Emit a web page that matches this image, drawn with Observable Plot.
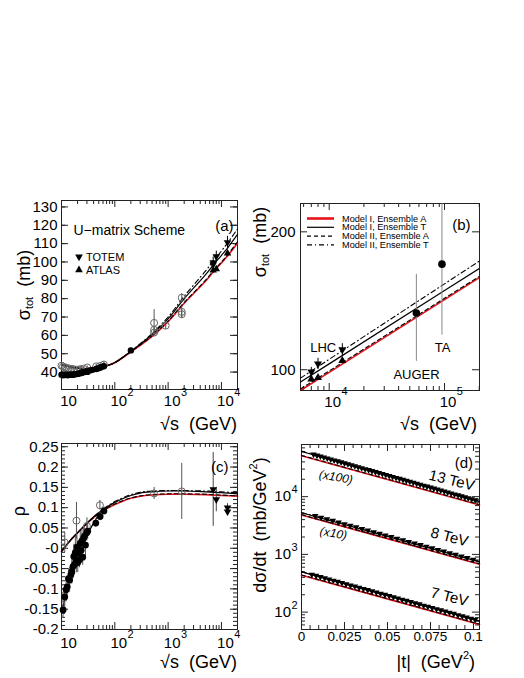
<!DOCTYPE html>
<html>
<head>
<meta charset="utf-8">
<script src="https://cdn.jsdelivr.net/npm/d3@7"></script>
<script src="https://cdn.jsdelivr.net/npm/@observablehq/plot@0.6"></script>
<style>
html,body{margin:0;padding:0;background:#fff;}
#wrap{position:relative;width:524px;height:678px;overflow:hidden;background:#fff;}
#wrap svg{position:absolute;}
</style>
</head>
<body>
<div id="wrap"></div>
<script>
// ================= DATA =================
// ---- Panel (a): sigma_tot (mb) vs sqrt(s) (GeV)
const aModelSqrtS = [10, 15, 20, 30, 50, 70, 100, 200, 500, 1000, 2000, 5000, 7000, 10000, 13000, 20000];
const aModelI_A  = [44.0, 42.8, 42.2, 41.9, 42.5, 43.4, 45.1, 51.0, 59.5, 67.5, 77.5, 89.5, 94.5, 99.5, 103.2, 110.3];
const aModelI_T  = [44.0, 42.8, 42.2, 41.9, 42.5, 43.4, 45.2, 51.3, 60.5, 69.0, 80.0, 93.0, 98.3, 103.6, 107.6, 115.0];
const aModelII_A = [44.0, 42.8, 42.2, 41.9, 42.5, 43.4, 45.1, 51.1, 59.7, 67.8, 77.9, 90.0, 95.0, 100.0, 103.8, 111.0];
const aModelII_T = [44.0, 42.8, 42.2, 41.9, 42.5, 43.4, 45.2, 51.4, 61.0, 70.0, 81.3, 95.0, 100.4, 106.0, 110.3, 118.0];
const aPPCurveSqrtS = [10, 15, 20, 30, 50, 70];
const aPPCurveSigma = [38.6, 38.7, 39.0, 39.9, 41.8, 43.3];
const aPPSqrtS = [10.0, 10.7, 11.5, 12.3, 13.1, 13.8, 14.6, 15.4, 16.2, 16.8, 17.9, 19.4, 20.5, 21.7, 23.0, 23.5, 24.3, 26.0, 27.4, 30.6, 34.0, 38.0, 44.7, 48.0, 52.8, 55.0, 62.5, 200];
const aPPSigma = [38.6, 38.3, 38.4, 38.5, 38.3, 38.5, 38.6, 38.5, 38.6, 38.7, 38.8, 38.9, 39.1, 39.3, 39.4, 39.6, 39.7, 39.9, 40.1, 40.1, 40.9, 41.2, 41.7, 42.0, 42.4, 42.7, 43.2, 51.8];
const aPPErr   = [0.6, 0.5, 0.5, 0.5, 0.5, 0.4, 0.5, 0.5, 0.4, 0.4, 0.5, 0.4, 0.5, 0.5, 0.4, 0.4, 0.5, 0.4, 0.4, 0.5, 0.6, 0.6, 0.4, 0.6, 0.4, 0.7, 2.0, 1.2];
const aPBSqrtS = [10.0, 10.7, 11.5, 12.3, 13.8, 15.4, 16.8, 19.4, 21.7, 23.0, 26.0, 30.4, 44.7, 52.6, 62.3, 546, 546, 546, 900, 1800, 1800, 1800];
const aPBSigma = [43.5, 43.0, 42.6, 42.3, 42.0, 41.7, 41.6, 41.3, 41.4, 41.6, 41.8, 42.5, 43.1, 43.3, 44.1, 66.8, 63.0, 61.5, 65.3, 80.5, 72.8, 71.5];
const aPBErr   = [0.8, 0.7, 0.7, 0.6, 0.6, 0.6, 0.6, 0.6, 0.6, 0.7, 0.7, 0.8, 1.0, 1.0, 1.5, 7.2, 1.5, 1.0, 2.0, 2.2, 3.1, 2.4];
const aTotemSqrtS = [7000, 7000, 8000, 13000];
const aTotemSigma = [98.6, 99.8, 103.0, 110.6];
const aTotemErr   = [2.2, 2.9, 2.9, 3.4];
const aAtlasSqrtS = [7000, 8000, 13000];
const aAtlasSigma = [95.4, 96.1, 104.7];
const aAtlasErr   = [1.4, 1.0, 1.1];
const aYTicks = [40, 50, 60, 70, 80, 90, 100, 110, 120, 130];
const aXTicks = [10, 100, 1000, 10000];
const aXExp   = ["", "2", "3", "4"];

// ---- Panel (b): sigma_tot at cosmic-ray energies
const bModelSqrtS = [5640, 10000, 100000, 200000];
const bModelI_A  = [90.1, 98.7, 142.3, 158.9];
const bModelI_T  = [94.0, 103.0, 148.9, 166.3];
const bModelII_A = [90.8, 99.4, 143.2, 159.8];
const bModelII_T = [95.9, 105.4, 154.0, 172.6];
const bTotemSqrtS = [7000, 8000, 13000];
const bTotemSigma = [99.0, 103.0, 110.6];
const bTotemErr   = [2.2, 2.9, 3.4];
const bAtlasSqrtS = [7000, 8000, 13000];
const bAtlasSigma = [95.4, 96.1, 104.7];
const bAtlasErr   = [1.4, 1.0, 1.1];
const bCosmicSqrtS = [57000, 95000];
const bCosmicSigma = [133, 170];
const bCosmicLow   = [104.3, 119];
const bCosmicHigh  = [161.5, 240];
const bLabelText  = ["LHC", "AUGER", "TA"];
const bLabelSqrtS = [8870, 57200, 96200];
const bLabelSigma = [111.7, 97.7, 111.7];
const bYTicks = [100, 200];
const bXTicks = [10000, 100000];
const bXExp   = ["4", "5"];

// ---- Panel (c): rho vs sqrt(s)
const cModelSqrtS = [10, 15, 20, 30, 45, 63, 100, 140, 200, 300, 500, 1000, 2000, 5000, 10000, 20000];
const cModelI_T  = [-0.008, 0.021, 0.038, 0.062, 0.083, 0.097, 0.113, 0.122, 0.130, 0.136, 0.139, 0.141, 0.141, 0.139, 0.137, 0.134];
const cModelII_T = [-0.008, 0.021, 0.038, 0.062, 0.083, 0.098, 0.115, 0.124, 0.132, 0.138, 0.141, 0.142, 0.142, 0.141, 0.139, 0.137];
const cModelI_A  = [-0.008, 0.021, 0.038, 0.061, 0.081, 0.094, 0.108, 0.116, 0.123, 0.128, 0.131, 0.133, 0.133, 0.132, 0.130, 0.128];
const cModelII_A = [-0.008, 0.021, 0.038, 0.061, 0.081, 0.095, 0.109, 0.117, 0.124, 0.129, 0.132, 0.134, 0.134, 0.133, 0.131, 0.129];
const cPPCurveSqrtS = [10, 12, 15, 20, 25, 30, 40, 50, 63];
const cPPCurveRho   = [-0.158, -0.118, -0.076, -0.025, 0.008, 0.032, 0.062, 0.082, 0.096];
const cPPSqrtS = [10.7, 11.5, 12.2, 12.8, 13.5, 14.2, 15.0, 15.6, 16.4, 17.0, 17.6, 18.2, 19.0, 19.5, 20.2, 21.0, 21.8, 22.5, 23.4, 24.2, 25.0, 26.0, 27.0, 28.2, 29.8, 31.0, 44.0, 53.0, 62.5];
const cPPRho   = [-0.152, -0.120, -0.102, -0.095, -0.075, -0.078, -0.065, -0.058, -0.045, -0.020, -0.040, -0.010, -0.030, 0.003, -0.035, -0.012, -0.028, 0.012, -0.005, 0.018, -0.022, 0.025, 0.030, 0.008, 0.038, 0.042, 0.062, 0.078, 0.092];
const cPPErr   = [0.020, 0.030, 0.030, 0.020, 0.025, 0.030, 0.020, 0.030, 0.030, 0.030, 0.025, 0.040, 0.030, 0.030, 0.025, 0.030, 0.020, 0.030, 0.025, 0.030, 0.020, 0.025, 0.020, 0.030, 0.020, 0.020, 0.010, 0.010, 0.010];
const cPBSqrtS = [11.5, 19.1, 30.0, 52.5, 546, 1800];
const cPBRho   = [0.014, 0.068, 0.055, 0.106, 0.135, 0.140];
const cPBErr   = [0.025, 0.045, 0.020, 0.012, 0.015, 0.069];
const cTotemSqrtS = [7000, 8000, 13000, 13000];
const cTotemRho   = [0.145, 0.120, 0.100, 0.090];
const cTotemErr   = [0.091, 0.030, 0.010, 0.010];
const cYTicks  = [-0.2, -0.15, -0.1, -0.05, 0, 0.05, 0.1, 0.15, 0.2, 0.25];
const cYLabels = ["-0.2", "-0.15", "-0.1", "-0.05", "-0", "0.05", "0.1", "0.15", "0.2", "0.25"];

// ---- Panel (d): dsigma/dt (mb/GeV^2) vs |t| (GeV^2)
const dLineT = [0, 0.052, 0.1035];
const d13I_A = [51000, 19100, 7180],  d13I_T = [60600, 22200, 8190], d13II_A = [51700, 19350, 7280], d13II_T = [61500, 22600, 8300];
const d8I_A  = [4810, 1800, 676],     d8I_T  = [5270, 1975, 741],    d8II_A  = [4870, 1825, 685],    d8II_T  = [5330, 2000, 750];
const d7I_A  = [435, 163, 61.1],      d7I_T  = [497, 186, 69.6],     d7II_A  = [441, 165, 61.9],     d7II_T  = [503, 188, 70.4];
const d13T = [0.007, 0.009, 0.011, 0.013, 0.015, 0.017, 0.019, 0.021, 0.023, 0.025, 0.027, 0.029, 0.031, 0.033, 0.035, 0.037, 0.039, 0.041, 0.043, 0.045, 0.047, 0.049, 0.051, 0.053, 0.055, 0.057, 0.059, 0.061, 0.063, 0.065, 0.067, 0.069, 0.071, 0.073, 0.075, 0.077, 0.079, 0.081, 0.083, 0.085, 0.087, 0.089, 0.091, 0.093, 0.095, 0.097, 0.099, 0.101];
const d13V = [53840, 51800, 49830, 47930, 46110, 44360, 42670, 41050, 39490, 37990, 36550, 35160, 33820, 32540, 31300, 30110, 28970, 27870, 26810, 25790, 24810, 23870, 22960, 22090, 21250, 20440, 19660, 18920, 18200, 17510, 16840, 16200, 15590, 15000, 14430, 13880, 13350, 12840, 12360, 11890, 11440, 11000, 10580, 10180, 9800, 9420, 9070, 8720];
const d8T = [0.008, 0.0114, 0.0148, 0.0182, 0.0216, 0.025, 0.0284, 0.0318, 0.0352, 0.0386, 0.042, 0.0454, 0.0488, 0.0522, 0.0556, 0.059, 0.0624, 0.0658, 0.0692, 0.0726, 0.076, 0.0794, 0.0828, 0.0862, 0.0896, 0.093, 0.0964, 0.0998];
const d8V = [4640, 4350, 4080, 3825, 3585, 3360, 3150, 2955, 2770, 2600, 2435, 2285, 2140, 2010, 1883, 1766, 1655, 1552, 1455, 1364, 1279, 1199, 1124, 1054, 988, 926, 868, 814];
const d7T = [0.006, 0.0085, 0.011, 0.0135, 0.016, 0.0185, 0.021, 0.0235, 0.026, 0.0285, 0.031, 0.0335, 0.036, 0.0385, 0.041, 0.0435, 0.046, 0.0485, 0.051, 0.0535, 0.056, 0.0585, 0.061, 0.0635, 0.066, 0.0685, 0.071, 0.0735, 0.076, 0.0785, 0.081, 0.0835, 0.086, 0.0885, 0.091, 0.0935, 0.096, 0.0985, 0.101];
const d7V = [447, 427, 407, 388, 370, 353, 337, 321, 306, 292, 279, 266, 253, 242, 230, 220, 210, 200, 191, 182, 173, 165, 158, 150, 143, 137, 130, 124, 119, 113, 108, 103, 98, 94, 89, 85, 81, 77.5, 74];
const dLabelText = ["13 TeV", "8 TeV", "7 TeV"];
const dLabelT    = [0.0874, 0.086, 0.086];
const dLabelV    = [19080, 1995, 183];
const dScaleText = ["(x100)", "(x10)"];
const dScaleT    = [0.020, 0.0186];
const dScaleV    = [21800, 2310];
const dXTicks  = [0, 0.025, 0.05, 0.075, 0.1];
const dXLabels = ["0", "0.025", "0.05", "0.075", "0.1"];
const dYTicks  = [100, 1000, 10000];
const dYExp    = ["2", "3", "4"];

const legendNames = ["Model I, Ensemble A", "Model I, Ensemble T", "Model II, Ensemble A", "Model II, Ensemble T"];

// ================= HELPERS =================
const FONT = '"Liberation Sans", Arial, Helvetica, sans-serif';
const RED = "#e8141b";
const FRAME = "#222";
const BAR = "#555";
const DASH = "4,3";
const DASHDOT = "5,3,1,3";
const wrap = document.getElementById("wrap");
const baseStyle = {fontFamily: FONT, background: "transparent", overflow: "visible", color: "#000"};

const pts = (xs, ys, es) => xs.map((x, i) => ({x, y: ys[i], e: es ? es[i] : 0}));

function place(svg, left, top) {
  svg.style.position = "absolute";
  svg.style.left = left + "px";
  svg.style.top = top + "px";
  wrap.appendChild(svg);
}
function logMinor(lo, hi) {
  const out = [];
  for (let e = Math.floor(Math.log10(lo)); e <= Math.ceil(Math.log10(hi)); e++)
    for (let k = 2; k <= 9; k++) { const v = k * Math.pow(10, e); if (v > lo * 1.001 && v < hi * 0.999) out.push(v); }
  return out;
}
function linMinor(lo, hi, step) {
  const out = [];
  for (let v = Math.ceil(lo / step) * step; v <= hi + 1e-9; v += step) out.push(+v.toFixed(6));
  return out;
}
function frameTicks(iw, ih, {xMaj = [], xMin = [], yMaj = [], yMin = []}, L = 7, l = 4) {
  const s = {stroke: FRAME, strokeWidth: 1};
  const m = [];
  for (const [v, len] of [[xMaj, L], [xMin, l]]) if (v.length) {
    m.push(Plot.ruleX(v, {x: d => d, insetTop: ih - len, ...s}));
    m.push(Plot.ruleX(v, {x: d => d, insetBottom: ih - len, ...s}));
  }
  for (const [v, len] of [[yMaj, L], [yMin, l]]) if (v.length) {
    m.push(Plot.ruleY(v, {y: d => d, insetRight: iw - len, ...s}));
    m.push(Plot.ruleY(v, {y: d => d, insetLeft: iw - len, ...s}));
  }
  return m;
}
function logXLabels(vals, exps, {dyBase, dyExp, fs = 15, fsExp = 11}) {
  const out = [];
  vals.forEach((v, i) => {
    const e = exps[i];
    out.push(Plot.text([v], {x: d => d, frameAnchor: "bottom", dy: dyBase, dx: e ? 4 : 7, text: () => "10", fontSize: fs, fill: "#000"}));
    if (e) out.push(Plot.text([v], {x: d => d, frameAnchor: "bottom", dy: dyExp, dx: 12.8, text: () => e, textAnchor: "start", fontSize: fsExp, fill: "#000"}));
  });
  return out;
}
function modelLines(xs, IA, IT, IIA, IIT, curve = "linear", clip = false) {
  return [
    Plot.line(pts(xs, IA), {x: "x", y: "y", stroke: RED, strokeWidth: 1.6, curve, clip}),
    Plot.line(pts(xs, IT), {x: "x", y: "y", stroke: "#000", strokeWidth: 1.2, curve, clip}),
    Plot.line(pts(xs, IIA), {x: "x", y: "y", stroke: "#000", strokeWidth: 1.1, strokeDasharray: DASH, curve, clip}),
    Plot.line(pts(xs, IIT), {x: "x", y: "y", stroke: "#000", strokeWidth: 1.1, strokeDasharray: DASHDOT, curve, clip})
  ];
}
const errBars = (data, stroke = BAR) =>
  Plot.ruleX(data, {x: "x", y1: d => d.y - d.e, y2: d => d.y + d.e, stroke, strokeWidth: 1, clip: true});
const downTri = (data, r = 2.8) => Plot.dot(data, {x: "x", y: "y", symbol: "triangle", rotate: 180, r, fill: "#000", stroke: "none"});
const upTri = (data, r = 2.8) => Plot.dot(data, {x: "x", y: "y", symbol: "triangle", r, fill: "#000", stroke: "none"});

// ================= PANEL (a) =================
{
  const iw = 176, ih = 189;
  const pp = pts(aPPSqrtS, aPPSigma, aPPErr);
  const pb = pts(aPBSqrtS, aPBSigma, aPBErr);
  const tot = pts(aTotemSqrtS, aTotemSigma, aTotemErr);
  const atl = pts(aAtlasSqrtS, aAtlasSigma, aAtlasErr);
  const svg = Plot.plot({
    width: 262, height: 250, marginLeft: 61, marginRight: 25, marginTop: 15, marginBottom: 46,
    x: {type: "log", domain: [10, 2e4], axis: null},
    y: {domain: [30.5, 133.5], axis: null},
    style: baseStyle,
    marks: [
      ...frameTicks(iw, ih, {xMaj: aXTicks, xMin: logMinor(10, 2e4), yMaj: aYTicks, yMin: linMinor(35, 133, 10)}),
      Plot.frame({stroke: FRAME}),
      Plot.text(aYTicks, {y: d => d, frameAnchor: "left", dx: -4, textAnchor: "end", text: d => String(d), fontSize: 15}),
      ...logXLabels(aXTicks, aXExp, {dyBase: 16.5, dyExp: 6.5}),
      ...modelLines(aModelSqrtS, aModelI_A, aModelI_T, aModelII_A, aModelII_T, "catmull-rom"),
      Plot.line(pts(aPPCurveSqrtS, aPPCurveSigma), {x: "x", y: "y", stroke: "#000", strokeWidth: 1.2, curve: "catmull-rom"}),
      errBars(pb), errBars(pp), errBars(tot, "#000"), errBars(atl, "#000"),
      Plot.dot(pb, {x: "x", y: "y", r: 3.5, stroke: "#666", strokeWidth: 1, fill: "none"}),
      Plot.dot(pp, {x: "x", y: "y", r: 3.2, fill: "#000"}),
      downTri(tot), upTri(atl),
      Plot.text(["U\u2212matrix Scheme"], {frameAnchor: "top-left", dx: 12, dy: 25, textAnchor: "start", text: d => d, fontSize: 14}),
      Plot.text(["(a)"], {frameAnchor: "top-right", dx: -4, dy: 20, textAnchor: "end", text: d => d, fontSize: 15})
    ]
  });
  place(svg, 0, 185);
}

// ================= PANEL (b) =================
let bScaleX = null;
{
  const iw = 179, ih = 187;
  const tot = pts(bTotemSqrtS, bTotemSigma, bTotemErr);
  const atl = pts(bAtlasSqrtS, bAtlasSigma, bAtlasErr);
  const cos = bCosmicSqrtS.map((x, i) => ({x, y: bCosmicSigma[i], lo: bCosmicLow[i], hi: bCosmicHigh[i]}));
  const labs = bLabelText.map((t, i) => ({t, x: bLabelSqrtS[i], y: bLabelSigma[i]}));
  const svg = Plot.plot({
    width: 262, height: 250, marginLeft: 38, marginRight: 45, marginTop: 18, marginBottom: 45,
    x: {type: "log", domain: [5640, 2.01e5], axis: null},
    y: {type: "log", domain: [90.1, 230.6], axis: null},
    style: baseStyle,
    marks: [
      ...frameTicks(iw, ih, {xMaj: bXTicks, xMin: logMinor(5640, 2.01e5), yMaj: bYTicks, yMin: []}),
      Plot.frame({stroke: FRAME}),
      Plot.text(bYTicks, {y: d => d, frameAnchor: "left", dx: -5, textAnchor: "end", text: d => String(d), fontSize: 15}),
      ...modelLines(bModelSqrtS, bModelI_A, bModelI_T, bModelII_A, bModelII_T, "linear", true),
      Plot.ruleX(cos, {x: "x", y1: "lo", y2: "hi", stroke: "#888", strokeWidth: 1, clip: true}),
      errBars(tot, "#000"), errBars(atl, "#000"),
      downTri(tot, 3), upTri(atl, 3),
      Plot.dot(cos, {x: "x", y: "y", r: 3.8, fill: "#000"}),
      Plot.text(labs, {x: "x", y: "y", text: "t", fontSize: 13}),
      Plot.text(["(b)"], {frameAnchor: "top-right", dx: -9, dy: 16, textAnchor: "end", text: d => d, fontSize: 15})
    ]
  });
  bScaleX = svg.scale("x");
  place(svg, 262, 185);
}

// ================= PANEL (c) =================
{
  const iw = 176, ih = 186;
  const pp = pts(cPPSqrtS, cPPRho, cPPErr);
  const pb = pts(cPBSqrtS, cPBRho, cPBErr);
  const tot = pts(cTotemSqrtS, cTotemRho, cTotemErr);
  const ylab = cYTicks.map((v, i) => ({v, t: cYLabels[i]}));
  const svg = Plot.plot({
    width: 262, height: 248, marginLeft: 61, marginRight: 25, marginTop: 13, marginBottom: 49,
    x: {type: "log", domain: [10, 2e4], axis: null},
    y: {domain: [-0.2, 0.258], axis: null},
    style: baseStyle,
    marks: [
      ...frameTicks(iw, ih, {xMaj: aXTicks, xMin: logMinor(10, 2e4), yMaj: cYTicks, yMin: linMinor(-0.19, 0.258, 0.01)}),
      Plot.frame({stroke: FRAME}),
      Plot.text(ylab, {y: "v", frameAnchor: "left", dx: -3, textAnchor: "end", text: "t", fontSize: 15}),
      ...logXLabels(aXTicks, aXExp, {dyBase: 18, dyExp: 8}),
      ...modelLines(cModelSqrtS, cModelI_A, cModelI_T, cModelII_A, cModelII_T, "catmull-rom"),
      Plot.line(pts(cPPCurveSqrtS, cPPCurveRho), {x: "x", y: "y", stroke: "#000", strokeWidth: 1.2, curve: "catmull-rom"}),
      errBars(pb), errBars(pp), errBars(tot, "#444"),
      Plot.dot(pb, {x: "x", y: "y", r: 3.5, stroke: "#666", strokeWidth: 1, fill: "none"}),
      Plot.dot(pp, {x: "x", y: "y", r: 3.4, fill: "#000"}),
      downTri(tot),
      Plot.text(["(c)"], {frameAnchor: "top-right", dx: -9, dy: 18, textAnchor: "end", text: d => d, fontSize: 15})
    ]
  });
  place(svg, 0, 430);
}

// ================= PANEL (d) =================
{
  const iw = 178, ih = 185;
  const xlab = dXTicks.map((v, i) => ({v, t: dXLabels[i]}));
  const ylab = dYTicks.map((v, i) => ({v, e: dYExp[i]}));
  const labs = dLabelText.map((t, i) => ({t, x: dLabelT[i], y: dLabelV[i]}));
  const scl = dScaleText.map((t, i) => ({t, x: dScaleT[i], y: dScaleV[i]}));
  const svg = Plot.plot({
    width: 262, height: 248, marginLeft: 39, marginRight: 45, marginTop: 14, marginBottom: 49,
    x: {domain: [0, 0.1035], axis: null},
    y: {type: "log", domain: [50, 8e4], axis: null},
    style: baseStyle,
    marks: [
      ...frameTicks(iw, ih, {xMaj: dXTicks, xMin: linMinor(0.005, 0.1035, 0.005).filter(v => !dXTicks.some(t => Math.abs(t - v) < 1e-9)), yMaj: dYTicks, yMin: logMinor(50, 8e4)}),
      Plot.frame({stroke: FRAME}),
      Plot.text(xlab, {x: "v", frameAnchor: "bottom", dy: 11, text: "t", fontSize: 13.5}),
      Plot.text(ylab, {y: "v", frameAnchor: "left", dx: -10.5, textAnchor: "end", text: () => "10", fontSize: 15}),
      Plot.text(ylab, {y: "v", frameAnchor: "left", dx: -10, dy: -7, textAnchor: "start", text: "e", fontSize: 11}),
      ...modelLines(dLineT, d13I_A, d13I_T, d13II_A, d13II_T),
      ...modelLines(dLineT, d8I_A, d8I_T, d8II_A, d8II_T),
      ...modelLines(dLineT, d7I_A, d7I_T, d7II_A, d7II_T),
      downTri(pts(d13T, d13V), 2.4),
      downTri(pts(d8T, d8V), 2.4),
      downTri(pts(d7T, d7V), 2.4),
      Plot.text(labs, {x: "x", y: "y", text: "t", fontSize: 15, rotate: 14}),
      Plot.text(scl, {x: "x", y: "y", text: "t", fontSize: 12, rotate: 10, fontStyle: "italic"}),
      Plot.text(["(d)"], {frameAnchor: "top-right", dx: -6.5, dy: 13, textAnchor: "end", text: d => d, fontSize: 15})
    ]
  });
  place(svg, 262, 430);
}

// ================= TITLES & LEGENDS (overlay) =================
const ov = d3.select(wrap).append("svg")
  .attr("width", 524).attr("height", 678)
  .style("left", "0px").style("top", "0px")
  .attr("font-family", FONT);

function title(x, y, segs, {rotate = false, anchor = "middle"} = {}) {
  const t = ov.append("text")
    .attr("transform", `translate(${x},${y})` + (rotate ? " rotate(-90)" : ""))
    .attr("text-anchor", anchor).attr("dominant-baseline", "central")
    .style("white-space", "pre").attr("fill", "#000");
  segs.forEach(([s, fs, dy]) => t.append("tspan").attr("font-size", fs).attr("dy", dy).text(s));
}
const sigmaTot = [["\u03C3", 18, 0], ["tot", 11, 5], ["  (mb)", 18, -5]];
title(24, 285, sigmaTot, {rotate: true});
title(260, 242, sigmaTot, {rotate: true});
title(19, 511, [["\u03C1", 18, 0]], {rotate: true});
title(260, 525, [["d\u03C3/dt  (mb/GeV", 18, 0], ["2", 11, -7], [")", 18, 7]], {rotate: true});
title(237, 424, [["\u221As  (GeV)", 18, 0]], {anchor: "end"});
title(477, 423.5, [["\u221As  (GeV)", 18, 0]], {anchor: "end"});
title(237, 662, [["\u221As  (GeV)", 18, 0]], {anchor: "end"});
title(475, 662, [["|t|  (GeV", 18, 0], ["2", 11, -7], [")", 18, 7]], {anchor: "end"});

// panel (b) x tick labels, placed with the panel's own x scale
bXTicks.forEach((v, i) => {
  const px = 262 + bScaleX.apply(v);
  ov.append("text").attr("x", px + 4).attr("y", 401).attr("text-anchor", "middle")
    .attr("dominant-baseline", "central").attr("font-size", 15).attr("fill", "#000").text("10");
  ov.append("text").attr("x", px + 12.8).attr("y", 391).attr("text-anchor", "start")
    .attr("dominant-baseline", "central").attr("font-size", 11).attr("fill", "#000").text(bXExp[i]);
});

// legend (a)
const legA = [{name: "TOTEM", rot: 180, y: 256.7}, {name: "ATLAS", rot: 0, y: 270}];
legA.forEach(d => {
  ov.append("path").attr("d", d3.symbol(d3.symbolTriangle, 26)())
    .attr("transform", `translate(79,${d.y}) rotate(${d.rot})`).attr("fill", "#000");
  ov.append("text").attr("x", 86).attr("y", d.y).attr("dominant-baseline", "central")
    .attr("font-size", 11).text(d.name);
});

// legend (b)
const legStyles = [
  {stroke: RED, w: 2.6, dash: null},
  {stroke: "#000", w: 1.2, dash: null},
  {stroke: "#000", w: 1.1, dash: DASH},
  {stroke: "#000", w: 1.1, dash: DASHDOT}
];
const legRowsY = [218.5, 227.3, 236.1, 244.9];
legendNames.forEach((name, i) => {
  const s = legStyles[i];
  const ln = ov.append("line").attr("x1", 307).attr("x2", 334).attr("y1", legRowsY[i]).attr("y2", legRowsY[i])
    .attr("stroke", s.stroke).attr("stroke-width", s.w);
  if (s.dash) ln.attr("stroke-dasharray", s.dash);
  ov.append("text").attr("x", 342).attr("y", legRowsY[i]).attr("dominant-baseline", "central")
    .attr("font-size", 9.2).text(name);
});
</script>
</body>
</html>
